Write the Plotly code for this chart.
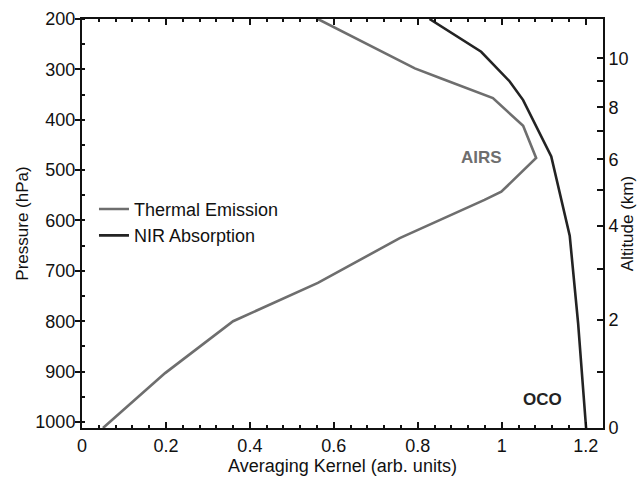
import plotly.graph_objects as go

# Averaging kernels vs pressure level
thermal_kernel = [0.562, 0.793, 0.856, 0.979, 1.051, 1.082, 0.999, 0.959, 0.757, 0.562, 0.360, 0.198, 0.050]
thermal_pressure = [200, 298, 318, 357, 412, 476, 543, 559, 635, 724, 800, 903, 1012]

nir_kernel = [0.828, 0.880, 0.951, 1.019, 1.051, 1.118, 1.162, 1.182, 1.201]
nir_pressure = [200, 228, 265, 324, 361, 473, 630, 804, 1012]

# Altitude scale on the right axis (km) and the pressure level of each tick
alt_major_km = [0, 2, 4, 6, 8, 10]
alt_major_p = [1012, 797.5, 611, 478.5, 375.2, 278]
alt_minor_p = [900.1, 697, 539.5, 422.8, 323.6]

pressure_ticks = [200, 300, 400, 500, 600, 700, 800, 900, 1000]
kernel_ticks = [0, 0.2, 0.4, 0.6, 0.8, 1, 1.2]

FONT = "Arial, Liberation Sans, Helvetica, sans-serif"
GRAY = "#6e6e6e"
DARK = "#232323"
P_RANGE = [1012, 200]

fig = go.Figure()
fig.add_trace(go.Scatter(x=thermal_kernel, y=thermal_pressure, mode="lines",
                         name="Thermal Emission",
                         line=dict(color=GRAY, width=2.6)))
fig.add_trace(go.Scatter(x=nir_kernel, y=nir_pressure, mode="lines",
                         name="NIR Absorption",
                         line=dict(color=DARK, width=2.6)))
# invisible trace that activates the altitude axis
fig.add_trace(go.Scatter(x=[None], y=[None], yaxis="y2", showlegend=False,
                         hoverinfo="skip"))

fig.add_annotation(x=0.951, y=474, text="<b>AIRS</b>", showarrow=False,
                   font=dict(family=FONT, size=17, color=GRAY))
fig.add_annotation(x=1.098, y=956, text="<b>OCO</b>", showarrow=False,
                   font=dict(family=FONT, size=17, color=DARK))

fig.update_layout(
    width=637, height=479,
    margin=dict(l=82, r=34, t=19, b=51),
    paper_bgcolor="white", plot_bgcolor="white",
    font=dict(family=FONT, size=18, color="#111"),
    showlegend=True,
    legend=dict(x=0.023, y=0.58, xanchor="left", yanchor="top",
                bgcolor="rgba(0,0,0,0)", font=dict(size=18),
                itemwidth=30, tracegroupgap=0),
    xaxis=dict(
        range=[0, 1.2413], tickvals=kernel_ticks,
        ticktext=["0", "0.2", "0.4", "0.6", "0.8", "1", "1.2"],
        showgrid=False, zeroline=False, automargin=False,
        showline=True, linecolor="#111", linewidth=2, mirror="ticks",
        ticks="inside", ticklen=6, tickwidth=1.5, tickcolor="#111",
        minor=dict(dtick=0.04, tick0=0, ticks="inside", ticklen=3,
                   tickwidth=1.5, tickcolor="#111"),
        title=dict(text="Averaging Kernel (arb. units)", standoff=4,
                   font=dict(size=18)),
        tickfont=dict(size=18),
    ),
    yaxis=dict(
        range=P_RANGE, tickvals=pressure_ticks,
        showgrid=False, zeroline=False, automargin=False,
        showline=True, linecolor="#111", linewidth=2, mirror=False,
        ticks="outside", ticklen=5, tickwidth=1.5, tickcolor="#111",
        ticklabelstandoff=-4,
        minor=dict(dtick=50, tick0=200, ticks="inside", ticklen=3,
                   tickwidth=1.5, tickcolor="#111"),
        title=dict(text="Pressure (hPa)", standoff=2, font=dict(size=17)),
        tickfont=dict(size=18),
    ),
    yaxis2=dict(
        overlaying="y", side="right", range=P_RANGE, automargin=False,
        tickmode="array", tickvals=alt_major_p,
        ticktext=[str(v) for v in alt_major_km],
        showgrid=False, zeroline=False,
        showline=True, linecolor="#111", linewidth=2,
        ticks="inside", ticklen=6, tickwidth=1.5, tickcolor="#111",
        minor=dict(tickmode="array", tickvals=alt_minor_p, ticks="inside",
                   ticklen=6, tickwidth=1.5, tickcolor="#111"),
        title=dict(text="Altitude (km)", standoff=2, font=dict(size=17)),
        tickfont=dict(size=18),
    ),
)

fig.write_html("out.html")
